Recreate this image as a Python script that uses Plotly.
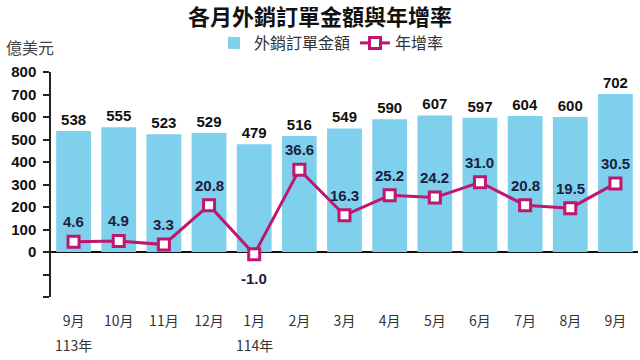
import plotly.graph_objects as go

months = ["9月", "10月", "11月", "12月", "1月", "2月", "3月", "4月", "5月", "6月", "7月", "8月", "9月"]
year_marks = {0: "113年", 4: "114年"}
orders = [538, 555, 523, 529, 479, 516, 549, 590, 607, 597, 604, 600, 702]
growth = [4.6, 4.9, 3.3, 20.8, -1.0, 36.6, 16.3, 25.2, 24.2, 31.0, 20.8, 19.5, 30.5]
ytick_vals = [-200, -100, 0, 100, 200, 300, 400, 500, 600, 700, 800]

x = list(range(len(months)))
BAR = "#7ED0EC"
LINE = "#C0166F"
NUM_FONT = "Liberation Sans, Arial, sans-serif"
CJK = "Noto Sans CJK TC, sans-serif"
PH = 225.0
PW = 587.0

fig = go.Figure()
fig.add_trace(go.Bar(
    x=x, y=orders, name="外銷訂單金額", marker=dict(color=BAR, line=dict(width=0)),
    text=[str(v) for v in orders], textposition="outside", cliponaxis=False,
    texttemplate="<b>%{text}</b>",
    textfont=dict(family=NUM_FONT, size=15, color="#111"),
))
fig.add_trace(go.Scatter(
    x=x, y=growth, name="年增率", yaxis="y2", mode="lines+markers",
    line=dict(color=LINE, width=3),
    marker=dict(symbol="square", size=11, color="white", line=dict(color=LINE, width=3)),
))

ann = []
for i, g in enumerate(growth):
    ann.append(dict(x=i, y=g, xref="x", yref="y2", text=f"<b>{g:.1f}</b>", showarrow=False,
                    yshift=-24 if g < 0 else 20,
                    font=dict(family=NUM_FONT, size=15, color="#1c2140")))
for i, t in year_marks.items():
    ann.append(dict(x=i, y=-48 / PH, xref="x", yref="paper", text=t, showarrow=False,
                    yanchor="middle", font=dict(family=CJK, size=14, color="#333")))
ann.append(dict(x=-47 / PW, y=1 + 25 / PH, xref="paper", yref="paper", text="億美元", showarrow=False,
                xanchor="left", yanchor="middle", font=dict(family=CJK, size=16, color="#444")))

fig.update_layout(
    width=640, height=360,
    margin=dict(l=51, r=2, t=72, b=63, autoexpand=False),
    paper_bgcolor="white", plot_bgcolor="white",
    title=dict(text="<b>各月外銷訂單金額與年增率</b>", x=0.5, xanchor="center",
               y=1 - 17 / 360, yanchor="middle", yref="container",
               font=dict(family=CJK, size=22, color="#111")),
    showlegend=True,
    legend=dict(orientation="h", x=214 / 640, y=1 - 43 / 360, xref="container", yref="container",
                xanchor="left", yanchor="middle",
                font=dict(family=CJK, size=16, color="#333"), bgcolor="rgba(0,0,0,0)",
                itemwidth=30, tracegroupgap=0),
    bargap=0.23,
    xaxis=dict(range=[-0.5, 12.5], tickvals=x, ticktext=months, showline=False, showgrid=False,
               zeroline=False, ticks="", ticklabelstandoff=14, automargin=False,
               tickfont=dict(family=CJK, size=14, color="#333")),
    yaxis=dict(range=[-200, 800], tickvals=ytick_vals,
               ticktext=[f"<b>{v}</b>" if v >= 0 else "" for v in ytick_vals],
               showline=True, linecolor="#222", linewidth=1.5, ticks="outside", ticklen=6,
               tickcolor="#222", tickwidth=1.5, showgrid=False, automargin=False,
               zeroline=True, zerolinecolor="#111", zerolinewidth=1.5,
               tickfont=dict(family=NUM_FONT, size=15, color="#111"), ticklabelstandoff=4),
    yaxis2=dict(range=[-20, 80], overlaying="y", visible=False),
    annotations=ann,
)
fig.write_html("out.html", config={"displayModeBar": False},
               post_script="document.body.style.margin='0';")
